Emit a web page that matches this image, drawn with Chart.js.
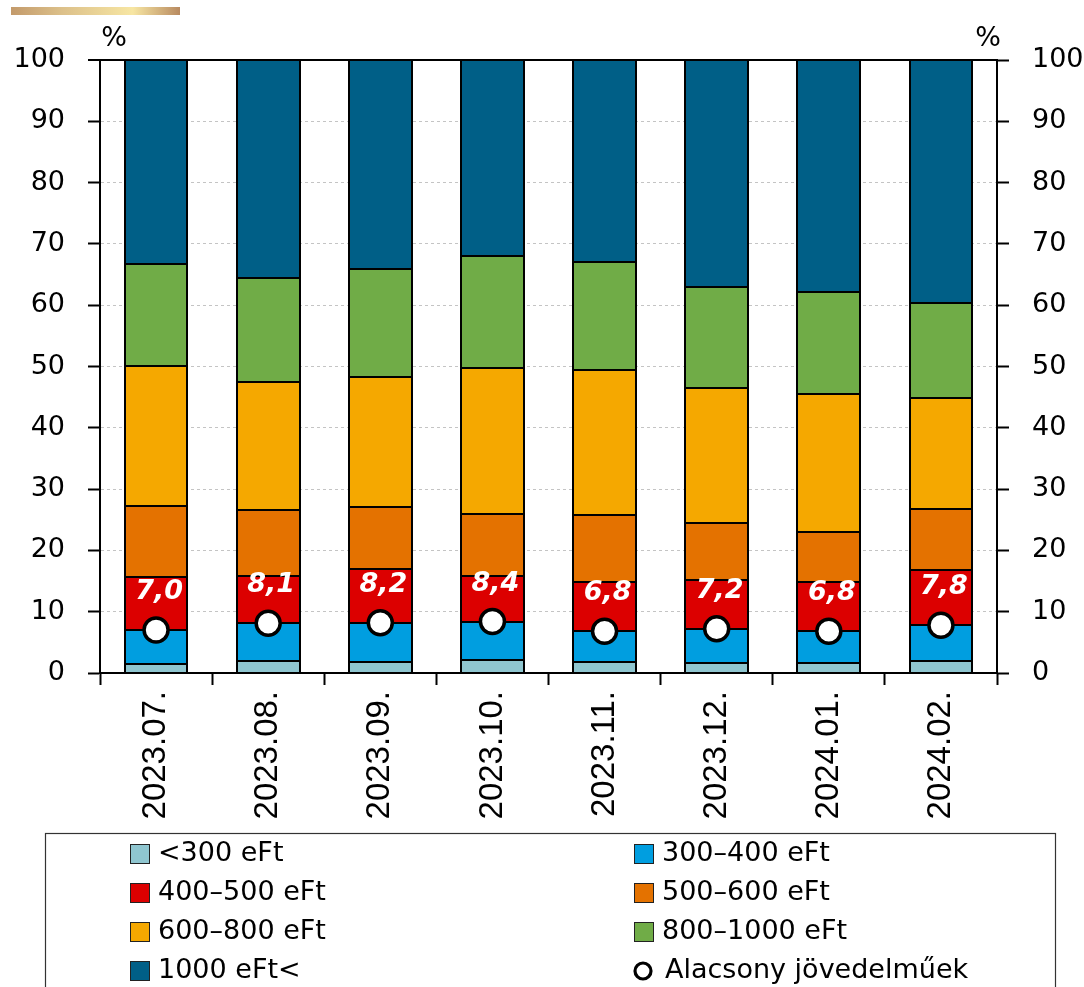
<!DOCTYPE html>
<html>
<head>
<meta charset="utf-8">
<script src="https://cdn.jsdelivr.net/npm/chart.js@4.4.1/dist/chart.umd.min.js"></script>
<style>
  html, body { margin: 0; padding: 0; background: #fff; }
  #wrap { position: relative; width: 1084px; height: 987px; overflow: hidden; }
  #goldbar { position: absolute; left: 11px; top: 7px; width: 169px; height: 8px;
    background: linear-gradient(90deg, #c39a6b 0%, #dcc08a 30%, #f7e6a3 72%, #b88a60 100%); }
  canvas { position: absolute; left: 0; top: 0; }
</style>
</head>
<body>
<div id="wrap">
  <div id="goldbar"></div>
  <canvas id="c" width="1084" height="987"></canvas>
</div>
<script>
// Months on the category axis
const categories = ['2023.07.', '2023.08.', '2023.09.', '2023.10.', '2023.11.', '2023.12.', '2024.01.', '2024.02.'];

// Share of each income band (%)
const lt300     = [1.5, 2.0, 1.8, 2.2, 1.8, 1.7, 1.7, 1.9];
const r300_400  = [5.5, 6.1, 6.4, 6.2, 5.0, 5.5, 5.1, 5.9];
const r400_500  = [8.7, 7.8, 8.8, 7.4, 8.0, 7.9, 8.0, 9.0];
const r500_600  = [11.6, 10.7, 10.0, 10.1, 11.0, 9.3, 8.2, 10.0];
const r600_800  = [22.8, 20.9, 21.3, 23.9, 23.6, 22.1, 22.5, 18.1];
const r800_1000 = [16.6, 16.9, 17.6, 18.2, 17.6, 16.4, 16.7, 15.5];
const gt1000    = [33.3, 35.6, 34.1, 32.0, 33.0, 37.1, 37.8, 39.6];

// Share of low-income borrowers (%)
const lowIncome = [7.0, 8.1, 8.2, 8.4, 6.8, 7.2, 6.8, 7.8];

// Axis ticks
const yMin = 0, yMax = 100, yStep = 10;

const bandNames = ['<300 eFt', '300–400 eFt', '400–500 eFt', '500–600 eFt', '600–800 eFt', '800–1000 eFt', '1000 eFt<'];
const bandData = [lt300, r300_400, r400_500, r500_600, r600_800, r800_1000, gt1000];
const bandColors = ['#8fc6d0', '#009ee0', '#dc0000', '#e47200', '#f5a800', '#70ac47', '#005f87'];

const FONT = "'DejaVu Sans', sans-serif";

const datasets = bandNames.map((name, i) => ({
  type: 'bar',
  label: name,
  data: bandData[i],
  backgroundColor: bandColors[i],
  borderWidth: 0,
  inflateAmount: 0,
  barPercentage: 0.56,
  categoryPercentage: 1.0,
  stack: 'bands',
  order: 1,
  yAxisID: 'y'
}));

datasets.push({
  type: 'line',
  label: 'Alacsony jövedelműek',
  data: lowIncome,
  showLine: false,
  pointStyle: 'circle',
  pointRadius: 12,
  pointHoverRadius: 12,
  pointBackgroundColor: '#fff',
  pointBorderColor: '#000',
  pointBorderWidth: 3.5,
  backgroundColor: '#fff',
  borderColor: '#000',
  stack: 'points',
  order: 0,
  yAxisID: 'y'
});

// Black outlines around every stacked segment; bar datasets are painted from the
// highest index down, so outline them once dataset 0 has been drawn
const segmentOutlines = {
  id: 'segmentOutlines',
  afterDatasetDraw(chart, args) {
    if (args.index !== 0) return;
    const ctx = chart.ctx;
    ctx.save();
    ctx.strokeStyle = '#000';
    ctx.lineWidth = 2;
    for (let d = 0; d < bandNames.length; d++) {
      chart.getDatasetMeta(d).data.forEach((bar) => {
        const p = bar.getProps(['x', 'y', 'base', 'width'], true);
        const l = Math.round(p.x - p.width / 2);
        const r = Math.round(p.x + p.width / 2);
        const t = Math.round(Math.min(p.y, p.base));
        const b = Math.round(Math.max(p.y, p.base));
        ctx.strokeRect(l, t, r - l, b - t);
      });
    }
    ctx.restore();
  }
};

// Value labels above the low-income markers
const valueLabels = {
  id: 'valueLabels',
  afterDatasetsDraw(chart) {
    const idx = chart.data.datasets.length - 1;
    const meta = chart.getDatasetMeta(idx);
    const ctx = chart.ctx;
    ctx.save();
    ctx.fillStyle = '#fff';
    ctx.font = "italic bold 27px " + FONT;
    ctx.textAlign = 'center';
    ctx.textBaseline = 'middle';
    meta.data.forEach((pt, i) => {
      const v = chart.data.datasets[idx].data[i];
      ctx.fillText(v.toFixed(1).replace('.', ','), pt.x + 3, pt.y - 38);
    });
    ctx.restore();
  }
};

// Unit captions above both value axes
const unitCaptions = {
  id: 'unitCaptions',
  afterDraw(chart) {
    const ctx = chart.ctx;
    const a = chart.chartArea;
    ctx.save();
    ctx.fillStyle = '#000';
    ctx.font = "27px " + FONT;
    ctx.textAlign = 'center';
    ctx.textBaseline = 'middle';
    ctx.fillText('%', a.left + 14, a.top - 21);
    ctx.fillText('%', a.right - 9, a.top - 21);
    ctx.restore();
  }
};

// Two-column boxed legend below the chart
const boxLegend = {
  id: 'boxLegend',
  afterDraw(chart) {
    const ctx = chart.ctx;
    const left = 45, top = 833, right = 1055, bottom = 1000;
    const colX = [130, 634];
    const rowY0 = 853, rowStep = 39;
    ctx.save();
    ctx.strokeStyle = '#333';
    ctx.lineWidth = 1.2;
    ctx.strokeRect(left + 0.5, top + 0.5, right - left, bottom - top);
    ctx.font = "27px " + FONT;
    ctx.textBaseline = 'middle';
    ctx.textAlign = 'left';
    chart.data.datasets.forEach((ds, i) => {
      const x = colX[i % 2];
      const y = rowY0 + Math.floor(i / 2) * rowStep;
      if (ds.type === 'line') {
        ctx.beginPath();
        ctx.arc(x + 9, y + 1, 8, 0, Math.PI * 2);
        ctx.fillStyle = '#fff';
        ctx.fill();
        ctx.lineWidth = 3.2;
        ctx.strokeStyle = '#000';
        ctx.stroke();
        ctx.fillStyle = '#000';
        ctx.fillText(ds.label, x + 31, y + 1);
      } else {
        ctx.fillStyle = ds.backgroundColor;
        ctx.fillRect(x, y - 9, 20, 20);
        ctx.lineWidth = 1;
        ctx.strokeStyle = '#222';
        ctx.strokeRect(x + 0.5, y - 8.5, 19, 19);
        ctx.fillStyle = '#000';
        ctx.fillText(ds.label, x + 28, y + 1);
      }
    });
    ctx.restore();
  }
};

Chart.defaults.color = '#000';
Chart.defaults.font.family = FONT;

new Chart(document.getElementById('c'), {
  data: { labels: categories, datasets },
  plugins: [segmentOutlines, valueLabels, unitCaptions, boxLegend],
  options: {
    responsive: false,
    animation: false,
    layout: { padding: { top: 60, bottom: 154, left: 0, right: 0 } },
    plugins: {
      legend: { display: false },
      tooltip: { enabled: false }
    },
    scales: {
      x: {
        stacked: true,
        offset: true,
        grid: {
          offset: true,
          drawOnChartArea: false,
          drawTicks: true,
          tickLength: 12,
          tickColor: '#000',
          tickWidth: 2
        },
        border: { display: true, color: '#000', width: 2 },
        ticks: {
          font: { family: "'Liberation Sans', Arial, sans-serif", size: 33 },
          color: '#000',
          maxRotation: 90,
          minRotation: 90,
          padding: 6,
          autoSkip: false
        },
        afterFit(scale) { scale.height = 160; }
      },
      y: {
        position: 'left',
        stacked: true,
        min: yMin,
        max: yMax,
        ticks: { stepSize: yStep, font: { size: 27 }, padding: 23, color: '#000' },
        grid: {
          color: (c) => (c.tick && c.tick.value === yMax ? '#000' : '#c4c4c4'),
          lineWidth: (c) => (c.tick && c.tick.value === yMax ? 2 : 1),
          drawTicks: true,
          tickLength: 12,
          tickColor: '#000',
          tickWidth: 2,
          tickBorderDash: []
        },
        border: {
          display: true, color: '#000', width: 2,
          dash: (c) => (c.tick && c.tick.value === yMax ? [] : [3, 3])
        },
        afterFit(scale) { scale.width = 100; }
      },
      y2: {
        position: 'right',
        min: yMin,
        max: yMax,
        ticks: { stepSize: yStep, font: { size: 27 }, padding: 23, color: '#000' },
        grid: {
          drawOnChartArea: false,
          drawTicks: true,
          tickLength: 12,
          tickColor: '#000',
          tickWidth: 2
        },
        border: { display: true, color: '#000', width: 2 },
        afterFit(scale) { scale.width = 87; }
      }
    }
  }
});
</script>
</body>
</html>
